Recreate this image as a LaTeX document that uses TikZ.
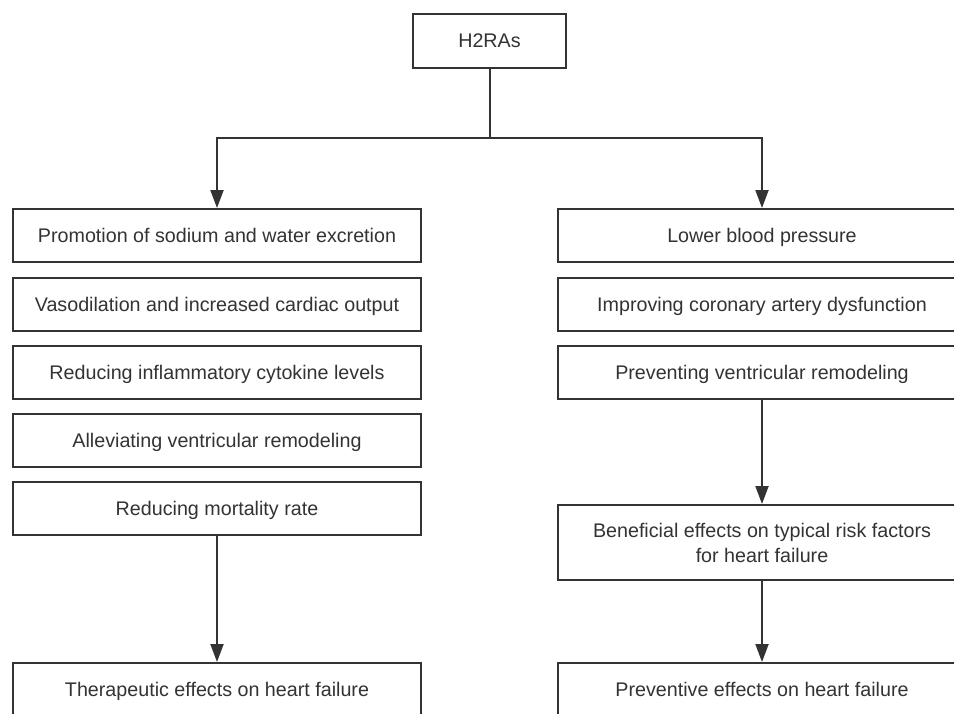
\documentclass[tikz,border=0pt]{standalone}
\usepackage{fontspec}
\setmainfont{Liberation Sans}
\usetikzlibrary{arrows.meta}
\definecolor{ln}{HTML}{333333}
\definecolor{tx}{HTML}{333333}
\begin{document}
\begin{tikzpicture}[x=1pt,y=-1pt,
  box/.style={draw=ln,line width=2pt,fill=white,minimum width=408pt,minimum height=53pt,inner sep=0pt,text=tx,font=\fontsize{19.7}{25}\selectfont,align=center,text depth=0pt},
  arr/.style={draw=ln,line width=2pt,-{Triangle[length=18pt,width=13pt]}}]
\useasboundingbox (0,0) rectangle (954,713);
\clip (0,0) rectangle (954,713);
\fill[white] (0,0) rectangle (954,713);
\node[box,minimum width=153pt,minimum height=54pt] (h) at (489.5,41) {H2RAs};
\node[box] (l1) at (217,235.5) {Promotion of sodium and water excretion};
\node[box] (l2) at (217,304.5) {Vasodilation and increased cardiac output};
\node[box] (l3) at (217,372.5) {Reducing inflammatory cytokine levels};
\node[box] (l4) at (217,440.5) {Alleviating ventricular remodeling};
\node[box] (l5) at (217,508.5) {Reducing mortality rate};
\node[box] (lb) at (217,689.5) {Therapeutic effects on heart failure};
\node[box] (r1) at (762,235.5) {Lower blood pressure};
\node[box] (r2) at (762,304.5) {Improving coronary artery dysfunction};
\node[box] (r3) at (762,372.5) {Preventing ventricular remodeling};
\node[box,minimum height=75pt] (r4) at (762,542.5) {Beneficial effects on typical risk factors\\for heart failure};
\node[box] (rb) at (762,689.5) {Preventive effects on heart failure};
\coordinate (j) at (489.5,138);
\draw[draw=ln,line width=2pt] (h.south) -- (j);
\draw[arr] (j) -| (l1.north);
\draw[arr] (j) -| (r1.north);
\draw[arr] (l5.south) -- (lb.north);
\draw[arr] (r3.south) -- (r4.north);
\draw[arr] (r4.south) -- (rb.north);
\end{tikzpicture}
\end{document}
